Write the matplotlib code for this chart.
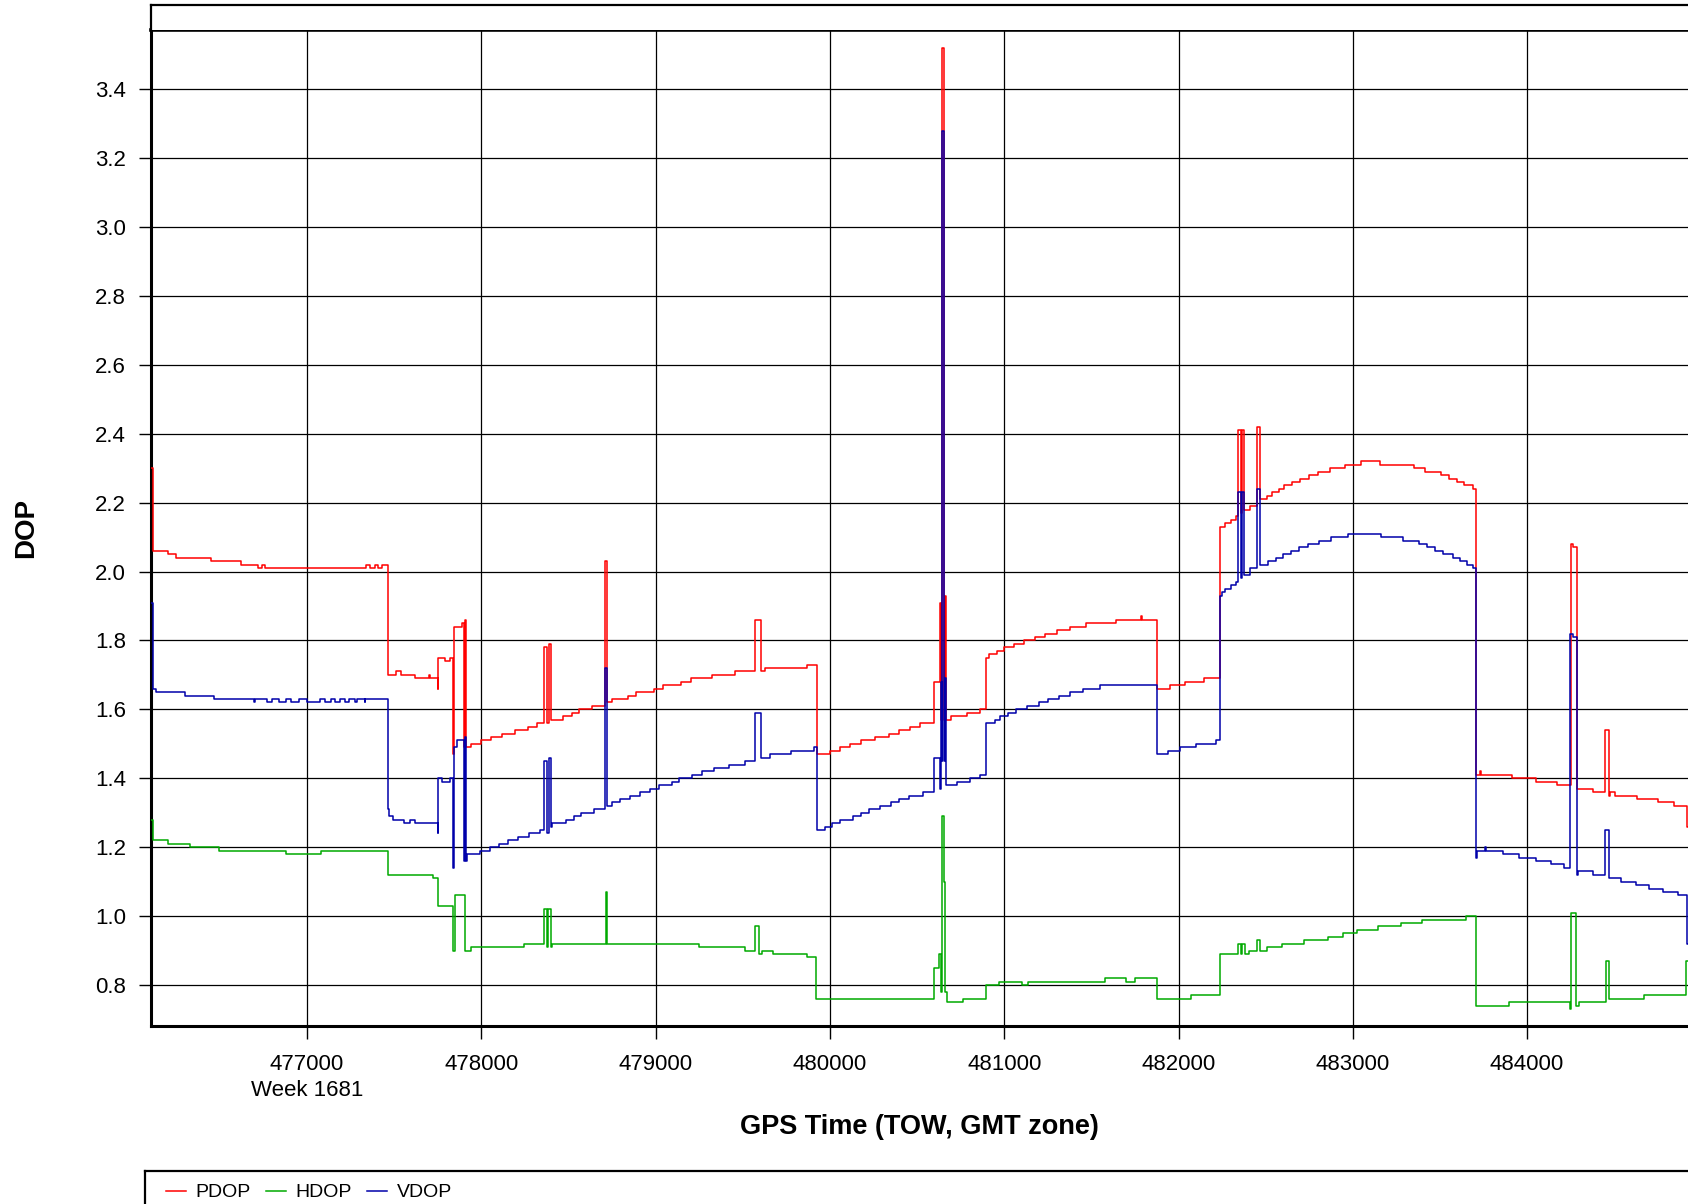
import matplotlib
matplotlib.use('Agg')
import matplotlib.pyplot as plt

plt.rcParams['font.family'] = ['Liberation Sans', 'DejaVu Sans']

# -----------------------------------------------
# -   DATA: step start (TOW, s) and DOP value   -
# -----------------------------------------------
pdop_t = [476105, 476118, 476200, 476250, 476450, 476620, 476720, 476740, 476760,
          477340, 477360, 477390, 477410, 477430, 477463, 477510, 477539, 477618,
          477700, 477706, 477751, 477754, 477793, 477822, 477836, 477845, 477889,
          477900, 477905, 477912, 477943, 478000, 478055, 478118, 478195, 478268,
          478319, 478357, 478377, 478386, 478401, 478470, 478520, 478560, 478634,
          478711, 478720, 478749, 478841, 478889, 478989, 479042, 479148, 479203,
          479324, 479458, 479569, 479602, 479627, 479870, 479927, 480000, 480057,
          480115, 480176, 480258, 480338, 480399, 480457, 480516, 480596, 480630,
          480637, 480645, 480655, 480660, 480665, 480695, 480787, 480863, 480898,
          480911, 480959, 481000, 481054, 481112, 481175, 481236, 481303, 481375,
          481471, 481643, 481784, 481790, 481876, 481952, 482038, 482148, 482238,
          482266, 482299, 482328, 482344, 482358, 482364, 482378, 482411, 482450,
          482466, 482505, 482537, 482574, 482608, 482653, 482696, 482747, 482800,
          482869, 482954, 483046, 483154, 483351, 483416, 483504, 483552, 483597,
          483636, 483688, 483707, 483728, 483738, 483912, 484050, 484170, 484250,
          484265, 484285, 484380, 484447, 484468, 484476, 484505, 484629, 484753,
          484843, 484916, 484925]
pdop_v = [2.30, 2.06, 2.05, 2.04, 2.03, 2.02, 2.01, 2.02, 2.01,
          2.02, 2.01, 2.02, 2.01, 2.02, 1.70, 1.71, 1.70, 1.69,
          1.70, 1.69, 1.66, 1.75, 1.74, 1.75, 1.47, 1.84, 1.85,
          1.49, 1.86, 1.49, 1.50, 1.51, 1.52, 1.53, 1.54, 1.55,
          1.56, 1.78, 1.56, 1.79, 1.57, 1.58, 1.59, 1.60, 1.61,
          2.03, 1.62, 1.63, 1.64, 1.65, 1.66, 1.67, 1.68, 1.69,
          1.70, 1.71, 1.86, 1.71, 1.72, 1.73, 1.47, 1.48, 1.49,
          1.50, 1.51, 1.52, 1.53, 1.54, 1.55, 1.56, 1.68, 1.91,
          1.57, 3.52, 1.57, 1.93, 1.57, 1.58, 1.59, 1.60, 1.75,
          1.76, 1.77, 1.78, 1.79, 1.80, 1.81, 1.82, 1.83, 1.84,
          1.85, 1.86, 1.87, 1.86, 1.66, 1.67, 1.68, 1.69, 2.13,
          2.14, 2.15, 2.16, 2.41, 2.17, 2.41, 2.18, 2.19, 2.42,
          2.21, 2.22, 2.23, 2.24, 2.25, 2.26, 2.27, 2.28, 2.29,
          2.30, 2.31, 2.32, 2.31, 2.30, 2.29, 2.28, 2.27, 2.26,
          2.25, 2.24, 1.41, 1.42, 1.41, 1.40, 1.39, 1.38, 2.08,
          2.07, 1.37, 1.36, 1.54, 1.35, 1.36, 1.35, 1.34, 1.33,
          1.32, 1.26, 1.26]

hdop_t = [476105, 476118, 476204, 476327, 476494, 476877, 477082, 477466, 477721,
          477752, 477836, 477849, 477908, 477939, 478246, 478361, 478379, 478385,
          478399, 478405, 478714, 478720, 479251, 479512, 479568, 479596, 479610,
          479673, 479870, 479921, 480596, 480628, 480640, 480645, 480656, 480660,
          480669, 480761, 480898, 480968, 481104, 481136, 481580, 481700, 481748,
          481875, 482072, 482237, 482341, 482357, 482366, 482379, 482405, 482452,
          482468, 482509, 482595, 482722, 482855, 482944, 483024, 483144, 483277,
          483398, 483652, 483706, 483896, 484245, 484251, 484283, 484300, 484451,
          484467, 484673, 484911, 484925]
hdop_v = [1.28, 1.22, 1.21, 1.20, 1.19, 1.18, 1.19, 1.12, 1.11,
          1.03, 0.90, 1.06, 0.90, 0.91, 0.92, 1.02, 0.91, 1.02,
          0.91, 0.92, 1.07, 0.92, 0.91, 0.90, 0.97, 0.89, 0.90,
          0.89, 0.88, 0.76, 0.85, 0.89, 0.78, 1.29, 1.10, 0.78,
          0.75, 0.76, 0.80, 0.81, 0.80, 0.81, 0.82, 0.81, 0.82,
          0.76, 0.77, 0.89, 0.92, 0.89, 0.92, 0.89, 0.90, 0.93,
          0.90, 0.91, 0.92, 0.93, 0.94, 0.95, 0.96, 0.97, 0.98,
          0.99, 1.00, 0.74, 0.75, 0.73, 1.01, 0.74, 0.75, 0.87,
          0.76, 0.77, 0.87, 0.87]

vdop_t = [476105, 476118, 476136, 476302, 476465, 476698, 476702, 476771, 476800,
          476841, 476881, 476910, 476952, 477000, 477077, 477101, 477139, 477163,
          477192, 477220, 477239, 477277, 477287, 477331, 477335, 477463, 477469,
          477491, 477554, 477589, 477621, 477751, 477754, 477774, 477822, 477836,
          477845, 477860, 477899, 477904, 477912, 477918, 477994, 478048, 478099,
          478151, 478208, 478271, 478338, 478357, 478377, 478386, 478400, 478405,
          478488, 478530, 478570, 478647, 478711, 478720, 478749, 478797, 478851,
          478908, 478966, 479017, 479094, 479132, 479209, 479266, 479333, 479423,
          479515, 479569, 479602, 479659, 479774, 479908, 479927, 479970, 480010,
          480057, 480134, 480176, 480223, 480287, 480348, 480395, 480453, 480533,
          480596, 480630, 480636, 480642, 480645, 480655, 480658, 480665, 480730,
          480802, 480863, 480898, 480945, 480978, 481020, 481070, 481131, 481198,
          481251, 481312, 481375, 481452, 481551, 481876, 481939, 482009, 482101,
          482216, 482240, 482250, 482269, 482299, 482328, 482344, 482358, 482364,
          482378, 482411, 482450, 482466, 482515, 482558, 482600, 482643, 482692,
          482741, 482804, 482873, 482973, 483164, 483290, 483377, 483424, 483472,
          483520, 483574, 483616, 483654, 483688, 483707, 483712, 483759, 483764,
          483860, 483956, 484050, 484136, 484214, 484247, 484262, 484285, 484291,
          484380, 484447, 484470, 484539, 484623, 484702, 484782, 484864, 484916,
          484925]
vdop_v = [1.91, 1.66, 1.65, 1.64, 1.63, 1.62, 1.63, 1.62, 1.63,
          1.62, 1.63, 1.62, 1.63, 1.62, 1.63, 1.62, 1.63, 1.62,
          1.63, 1.62, 1.63, 1.62, 1.63, 1.62, 1.63, 1.31, 1.29,
          1.28, 1.27, 1.28, 1.27, 1.24, 1.40, 1.39, 1.40, 1.14,
          1.49, 1.51, 1.16, 1.52, 1.16, 1.18, 1.19, 1.20, 1.21,
          1.22, 1.23, 1.24, 1.25, 1.45, 1.24, 1.46, 1.26, 1.27,
          1.28, 1.29, 1.30, 1.31, 1.72, 1.32, 1.33, 1.34, 1.35,
          1.36, 1.37, 1.38, 1.39, 1.40, 1.41, 1.42, 1.43, 1.44,
          1.45, 1.59, 1.46, 1.47, 1.48, 1.49, 1.25, 1.26, 1.27,
          1.28, 1.29, 1.30, 1.31, 1.32, 1.33, 1.34, 1.35, 1.36,
          1.46, 1.37, 1.68, 1.45, 3.28, 1.45, 1.69, 1.38, 1.39,
          1.40, 1.41, 1.56, 1.57, 1.58, 1.59, 1.60, 1.61, 1.62,
          1.63, 1.64, 1.65, 1.66, 1.67, 1.47, 1.48, 1.49, 1.50,
          1.51, 1.93, 1.94, 1.95, 1.96, 1.97, 2.23, 1.98, 2.23,
          1.99, 2.01, 2.24, 2.02, 2.03, 2.04, 2.05, 2.06, 2.07,
          2.08, 2.09, 2.10, 2.11, 2.10, 2.09, 2.08, 2.07, 2.06,
          2.05, 2.04, 2.03, 2.02, 2.01, 1.17, 1.19, 1.20, 1.19,
          1.18, 1.17, 1.16, 1.15, 1.14, 1.82, 1.81, 1.12, 1.13,
          1.12, 1.25, 1.11, 1.10, 1.09, 1.08, 1.07, 1.06, 0.92,
          0.92]

x_ticks = [477000, 478000, 479000, 480000, 481000, 482000, 483000, 484000]
x_tick_labels = ['477000\nWeek 1681', '478000', '479000', '480000',
                 '481000', '482000', '483000', '484000']
y_ticks = [0.8, 1.0, 1.2, 1.4, 1.6, 1.8, 2.0, 2.2, 2.4, 2.6, 2.8, 3.0, 3.2, 3.4]

# -----------------------------------------------
# -         PLOT DATA                           -
# -----------------------------------------------
W, H = 1688, 1204
fig = plt.figure(figsize=(W / 100, H / 100), dpi=100)
ax = fig.add_axes([151 / W, 1 - 1026 / H, 1 - 151 / W, (1026 - 30) / H])

l_p, = ax.step(pdop_t, pdop_v, where='post', color='#ff0000', lw=1.1, label='PDOP', zorder=3)
l_h, = ax.step(hdop_t, hdop_v, where='post', color='#00aa00', lw=1.1, label='HDOP', zorder=3)
l_v, = ax.step(vdop_t, vdop_v, where='post', color='#0000aa', lw=1.1, label='VDOP', zorder=3)

ax.set_xlim(476105, 484923)
ax.set_ylim(0.681, 3.572)
ax.set_xticks(x_ticks)
ax.set_xticklabels(x_tick_labels, fontsize=16, linespacing=1.3)
ax.set_yticks(y_ticks)
ax.set_yticklabels(['%.1f' % y for y in y_ticks], fontsize=16)
ax.tick_params(axis='both', direction='out', length=9, width=1.0, color='black')
ax.tick_params(axis='x', pad=11)
ax.tick_params(axis='y', pad=9)
ax.grid(True, color='black', lw=0.9)

for side in ['left', 'bottom']:
    ax.spines[side].set_linewidth(2.2)
ax.spines['top'].set_linewidth(2.6)
ax.spines['right'].set_visible(False)

ax.set_xlabel('GPS Time (TOW, GMT zone)', fontsize=19.5, fontweight='bold')
ax.xaxis.set_label_coords(0.5, -0.088)
ax.set_ylabel('DOP', fontsize=20, fontweight='bold')
ax.yaxis.set_label_coords(-0.073, 0.5)

# empty band above the plot
band = fig.add_axes([151 / W, 1 - 30 / H, 1 - 151 / W, 25 / H])
band.set_xticks([])
band.set_yticks([])
for side in ['left', 'top']:
    band.spines[side].set_linewidth(1.6)
band.spines['right'].set_visible(False)
band.spines['bottom'].set_visible(False)

# legend box at the bottom
lax = fig.add_axes([145 / W, -0.02, 1 - 145 / W, 0.02 + 33 / H])
lax.set_xticks([])
lax.set_yticks([])
lax.spines['right'].set_visible(False)
for side in ['left', 'top']:
    lax.spines[side].set_linewidth(1.6)
lax.legend(handles=[l_p, l_h, l_v], loc='center left', bbox_to_anchor=(0.0, 0.62),
           ncol=3, frameon=False, fontsize=14, handlelength=1.0,
           handletextpad=0.5, columnspacing=0.8, borderpad=0.0, borderaxespad=1.1)

fig.savefig('out.png', dpi=100)
